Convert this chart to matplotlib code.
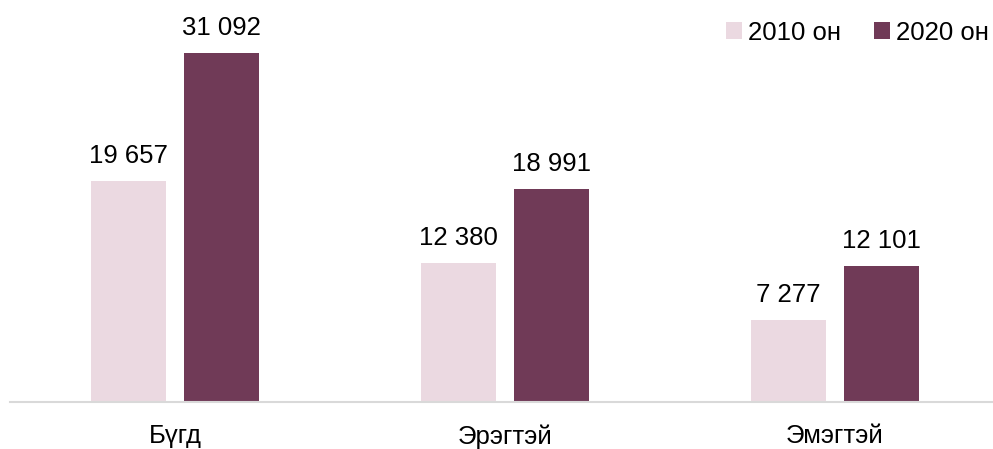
import matplotlib.pyplot as plt
import numpy as np

categories = ['Бүгд', 'Эрэгтэй', 'Эмэгтэй']
series_names = ['2010 он', '2020 он']
values_2010 = [19657, 12380, 7277]
values_2020 = [31092, 18991, 12101]

plt.rcParams['font.family'] = ['Liberation Sans', 'DejaVu Sans']

color_light = '#EBD9E1'
color_dark = '#703A57'

def fmt(v):
    return '{:,}'.format(v).replace(',', ' ')

fig = plt.figure(figsize=(9.93, 4.49), dpi=100)
ax = fig.add_axes([10 / 993, 47 / 449, 990 / 993, 393 / 449])

x = np.arange(len(categories))
w = 0.227
off = 0.142
b1 = ax.bar(x - off, values_2010, w, color=color_light, label=series_names[0])
b2 = ax.bar(x + off, values_2020, w, color=color_dark, label=series_names[1])

# подписи значений над столбцами
for bars, vals in ((b1, values_2010), (b2, values_2020)):
    for r, v in zip(bars, vals):
        ax.annotate(fmt(v), (r.get_x() + r.get_width() / 2, r.get_height()),
                    xytext=(0, 9.5), textcoords='offset points',
                    ha='center', va='bottom', fontsize=18.5, color='#000000')

ax.set_xlim(-0.5, 2.5)
ax.set_ylim(0, 35000)
ax.set_yticks([])
ax.set_xticks(x)
ax.set_xticklabels(categories, fontsize=18.5)
ax.tick_params(axis='x', length=0, pad=16)
for s in ['top', 'right', 'left']:
    ax.spines[s].set_visible(False)
ax.spines['bottom'].set_color('#D9D9D9')
ax.spines['bottom'].set_linewidth(1.5)

fig.legend(handles=[b1, b2], labels=series_names, loc='center left',
           bbox_to_anchor=(726 / 993, 1 - 33 / 449), ncol=2, frameon=False,
           fontsize=18.5, handlelength=0.64, handleheight=0.64,
           handletextpad=0.2, columnspacing=1.3, borderpad=0, borderaxespad=0)

plt.savefig('out.png', dpi=100)
